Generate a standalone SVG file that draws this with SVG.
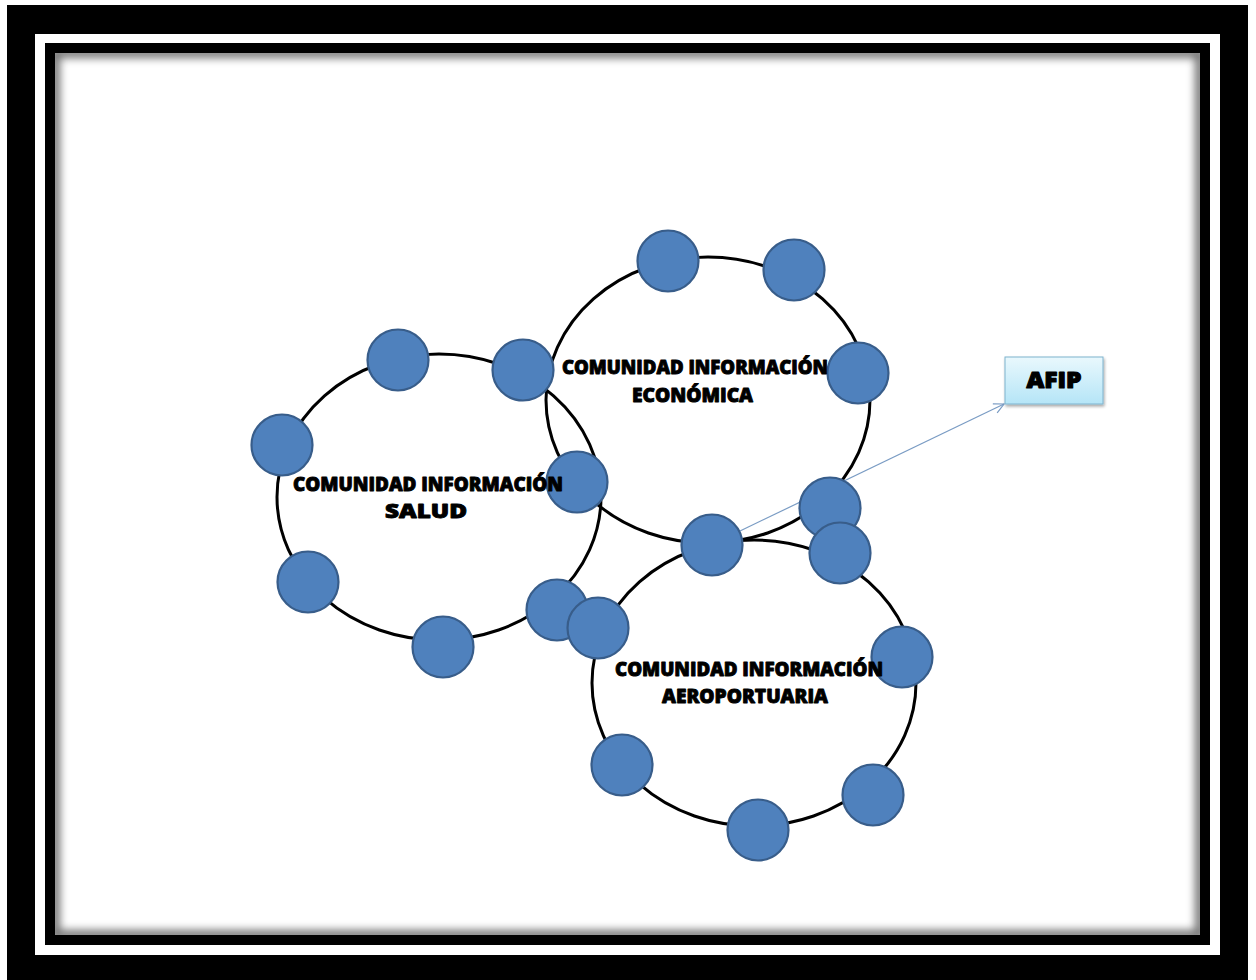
<svg xmlns="http://www.w3.org/2000/svg" width="1256" height="980" viewBox="0 0 1256 980">
  <style>
    .ring { fill: none; stroke: #000; stroke-width: 3; }
    .node { fill: #4F81BD; stroke: #385D8A; stroke-width: 2.2; }
    .label { font-family: "Open Sans", "Liberation Sans", sans-serif; font-weight: 800; font-size: 19.5px; fill: #000; stroke: #000; stroke-width: 0.9; stroke-linejoin: round; }
    .afip { font-family: "Open Sans", "Liberation Sans", sans-serif; font-weight: 800; font-size: 22px; fill: #000; stroke: #000; stroke-width: 1.1; stroke-linejoin: round; }
  </style>
  <defs>
    <linearGradient id="boxFill" x1="0" y1="0" x2="0" y2="1">
      <stop offset="0" stop-color="#E9F8FD"/>
      <stop offset="1" stop-color="#B5E5F7"/>
    </linearGradient>
    <clipPath id="interior">
      <rect x="55" y="53" width="1145" height="882"/>
    </clipPath>
    <filter id="soft" x="-5%" y="-5%" width="110%" height="110%">
      <feGaussianBlur stdDeviation="4"/>
    </filter>
    <filter id="boxShadow" x="-10%" y="-10%" width="130%" height="130%">
      <feGaussianBlur in="SourceAlpha" stdDeviation="1.5"/>
      <feOffset dx="1" dy="2"/>
      <feComponentTransfer><feFuncA type="linear" slope="0.35"/></feComponentTransfer>
      <feMerge><feMergeNode/><feMergeNode in="SourceGraphic"/></feMerge>
    </filter>
    <marker id="openArrow" markerWidth="14" markerHeight="12" refX="11" refY="6" orient="auto" markerUnits="userSpaceOnUse">
      <path d="M1,1 L11,6 L1,11" fill="none" stroke="#7A9CC4" stroke-width="1.2"/>
    </marker>
  </defs>

  <!-- page frame -->
  <g id="frame">
    <rect x="0" y="0" width="1256" height="980" fill="#fff"/>
    <rect x="7" y="5" width="1241" height="975" fill="#000"/>
    <rect x="35" y="34" width="1185" height="921" fill="#fff"/>
    <rect x="45" y="43" width="1165" height="902" fill="#000"/>
    <rect x="55" y="53" width="1145" height="882" fill="#fff"/>
    <rect x="55" y="53" width="1145" height="882" fill="none" stroke="#000" stroke-width="10" opacity="0.55" filter="url(#soft)" clip-path="url(#interior)"/>
  </g>

  <!-- community rings -->
  <g id="comunidad-salud">
    <ellipse class="ring" cx="439" cy="497" rx="162" ry="143"/>
  </g>
  <g id="comunidad-economica">
    <ellipse class="ring" cx="708" cy="400" rx="162" ry="143"/>
  </g>
  <g id="comunidad-aeroportuaria">
    <ellipse class="ring" cx="754" cy="683" rx="162" ry="143"/>
  </g>

  <!-- connectors -->
  <g id="connectors">
    <line x1="740" y1="531" x2="1004" y2="404" stroke="#7A9CC4" stroke-width="1.2" marker-end="url(#openArrow)"/>
  </g>

  <!-- member nodes -->
  <g id="members">
    <g id="n-salud-1"><circle class="node" cx="398" cy="360" r="30.5"/></g>
    <g id="n-salud-2"><circle class="node" cx="282" cy="445" r="30.5"/></g>
    <g id="n-salud-3"><circle class="node" cx="308" cy="582" r="30.5"/></g>
    <g id="n-salud-4"><circle class="node" cx="443" cy="647" r="30.5"/></g>
    <g id="n-shared-1"><circle class="node" cx="523" cy="370" r="30.5"/></g>
    <g id="n-shared-2"><circle class="node" cx="577" cy="482" r="30.5"/></g>
    <g id="n-shared-3"><circle class="node" cx="557" cy="610" r="30.5"/></g>
    <g id="n-shared-4"><circle class="node" cx="598" cy="628" r="30.5"/></g>
    <g id="n-eco-1"><circle class="node" cx="668" cy="261" r="30.5"/></g>
    <g id="n-eco-2"><circle class="node" cx="794" cy="270" r="30.5"/></g>
    <g id="n-eco-3"><circle class="node" cx="858" cy="373" r="30.5"/></g>
    <g id="n-eco-4"><circle class="node" cx="830" cy="508" r="30.5"/></g>
    <g id="n-shared-5"><circle class="node" cx="712" cy="545" r="30.5"/></g>
    <g id="n-aero-1"><circle class="node" cx="840" cy="553" r="30.5"/></g>
    <g id="n-aero-2"><circle class="node" cx="902" cy="657" r="30.5"/></g>
    <g id="n-aero-3"><circle class="node" cx="622" cy="765" r="30.5"/></g>
    <g id="n-aero-4"><circle class="node" cx="873" cy="795" r="30.5"/></g>
    <g id="n-aero-5"><circle class="node" cx="758" cy="830" r="30.5"/></g>
  </g>

  <!-- community labels -->
  <g id="label-salud">
    <text class="label" x="293" y="491" textLength="270" lengthAdjust="spacingAndGlyphs">COMUNIDAD INFORMACIÓN</text>
    <text class="label" x="385" y="518" textLength="82" lengthAdjust="spacingAndGlyphs">SALUD</text>
  </g>
  <g id="label-economica">
    <text class="label" x="562" y="374" textLength="266" lengthAdjust="spacingAndGlyphs">COMUNIDAD INFORMACIÓN</text>
    <text class="label" x="632" y="402" textLength="121" lengthAdjust="spacingAndGlyphs">ECONÓMICA</text>
  </g>
  <g id="label-aeroportuaria">
    <text class="label" x="615" y="676" textLength="268" lengthAdjust="spacingAndGlyphs">COMUNIDAD INFORMACIÓN</text>
    <text class="label" x="662" y="703" textLength="166" lengthAdjust="spacingAndGlyphs">AEROPORTUARIA</text>
  </g>

  <!-- AFIP box -->
  <g id="afip">
    <rect x="1005" y="357" width="98" height="47" fill="url(#boxFill)" stroke="#7FB3CE" stroke-width="1" filter="url(#boxShadow)"/>
    <text class="afip" x="1054" y="388" text-anchor="middle" textLength="55" lengthAdjust="spacingAndGlyphs">AFIP</text>
  </g>
</svg>
